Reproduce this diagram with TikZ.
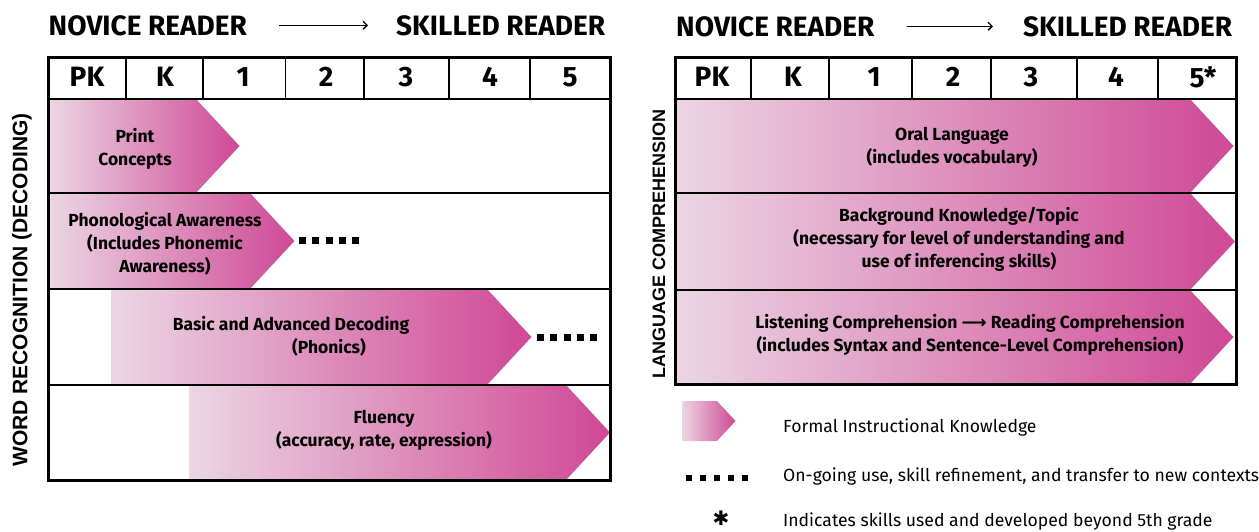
\documentclass[tikz,border=0pt]{standalone}
\usepackage{fontspec}
\setmainfont{Fira Sans}
\newfontfamily\arialfont{Liberation Sans}
\newfontfamily\symfont{DejaVu Sans}
\usetikzlibrary{positioning, arrows.meta}
\definecolor{pinklo}{RGB}{236,214,227}
\definecolor{pinkhi}{RGB}{207,72,150}

\begin{document}
\begin{tikzpicture}[x=1pt, y=-1pt,
  title/.style={font=\fontsize{28}{28}\selectfont\bfseries, inner sep=0pt, anchor=base west},
  grade/.style={font=\fontsize{28}{28}\selectfont\bfseries, inner sep=0pt},
  skill/.style={font=\fontsize{17.5}{23}\selectfont\bfseries, align=center, inner sep=0pt},
  side/.style={rotate=90, inner sep=0pt},
  note/.style={font=\fontsize{17.6}{17.6}\selectfont, anchor=base west, inner sep=0pt},
  band/.style={left color=pinklo, right color=pinkhi},
  dots/.style={line width=7pt, dash pattern=on 7pt off 6.3pt},
  long/.style={-{Straight Barb[length=4pt,width=8pt]}, line width=1.3pt}]
\useasboundingbox (0,0) rectangle (1259,531);

\foreach \xa/\xb/\yt/\yb in {48.5/196/99/193, 48.5/250/193/289, 111/487/289/385, 189/566/385/480,
    675/1190/99/193, 675/1190/193/290, 675/1190/290/384, 682/717/401/441}
  \shade[band] (\xa,\yt) -- (\xb,\yt) -- ({\xb+44*(\yb-\yt)/95},{(\yt+\yb)/2}) -- (\xb,\yb) -- (\xa,\yb) -- cycle;

\draw[line width=3pt] (48.5,57) rectangle (610,480);
\foreach \y in {99,193,289,385}
  \draw[line width=2.2pt] (48.5,\y) -- (610,\y);
\foreach \x in {126,203,285.5,364,449,530}
  \draw[line width=1.5pt] (\x,57) -- (\x,99);
\draw[line width=3pt] (675,57) rectangle (1236,384);
\foreach \y in {99,193,290}
  \draw[line width=2.2pt] (675,\y) -- (1236,\y);
\foreach \x in {751,829,912,991,1077,1158}
  \draw[line width=1.5pt] (\x,57) -- (\x,99);

\node[title] (nov) at (48.5,35) {NOVICE READER};
\node[title] (ski) at (396,35) {SKILLED READER};
\node[title] (nov2) at (676,36) {NOVICE READER};
\node[title] (ski2) at (1023,36) {SKILLED READER};
\draw[long] ([xshift=32pt]nov.east |- nov.center) -- ([xshift=-28pt]ski.west |- ski.center);
\draw[long] ([xshift=32pt]nov2.east |- nov2.center) -- ([xshift=-30pt]ski2.west |- ski2.center);

\foreach \g/\x in {PK/87,K/165,1/243,2/326,3/406,4/490,5/570}
  \node[grade] (l\g) at (\x,77) {\g};
\foreach \g/\x in {PK/712,K/793,1/874,2/953,3/1031,4/1116,5*/1203}
  \node[grade] (r\g) at (\x,77) {\g};

\node[skill] (print) at (135,148.5) {Print\\Concepts};
\node[skill] (phono) at (165,244) {Phonological Awareness\\(Includes Phonemic\\Awareness)};
\node[skill] (decode) at (291,336.5) {Basic and Advanced Decoding\\\hspace*{76pt}(Phonics)};
\node[skill] (fluency) at (384,430) {Fluency\\(accuracy, rate, expression)};
\node[skill] (oral) at (952,147) {Oral Language\\(includes vocabulary)};
\node[skill] (topic) at (959,239.5) {Background Knowledge/Topic\\(necessary for level of understanding and\\use of inferencing skills)};
\node[skill] (listen) at (970,334.5) {Listening Comprehension {\symfont\bfseries ⟶} Reading Comprehension\\(includes Syntax and Sentence-Level Comprehension)};

\node[side, font=\arialfont\bfseries\fontsize{21}{21}\selectfont] (wrd) at (22,290) {WORD RECOGNITION (DECODING)};
\node[side, font=\arialfont\bfseries\fontsize{18}{18}\selectfont] (lang) at (659,244) {LANGUAGE COMPREHENSION};

\coordinate (d1a) at (299,240.5);
\coordinate (d1b) at (360,240.5);
\coordinate (d2a) at (537,337);
\coordinate (d2b) at (598,337);
\coordinate (d3a) at (686,478);
\coordinate (d3b) at (748,478);
\draw[dots] (d1a) -- (d1b);
\draw[dots] (d2a) -- (d2b);
\draw[dots, line width=6pt, dash pattern=on 6pt off 8pt] (d3a) -- (d3b);

\node[note] (formal) at (783,432) {Formal Instructional Knowledge};
\node[note] (ongoing) at (783,481) {On-going use, skill refinement, and transfer to new contexts};
\node[note] (beyond) at (783,526) {Indicates skills used and developed beyond 5th grade};
\node[font=\symfont\fontsize{20}{20}\selectfont, inner sep=0pt] (ast) at (721,518) {✱};
\end{tikzpicture}
\end{document}
